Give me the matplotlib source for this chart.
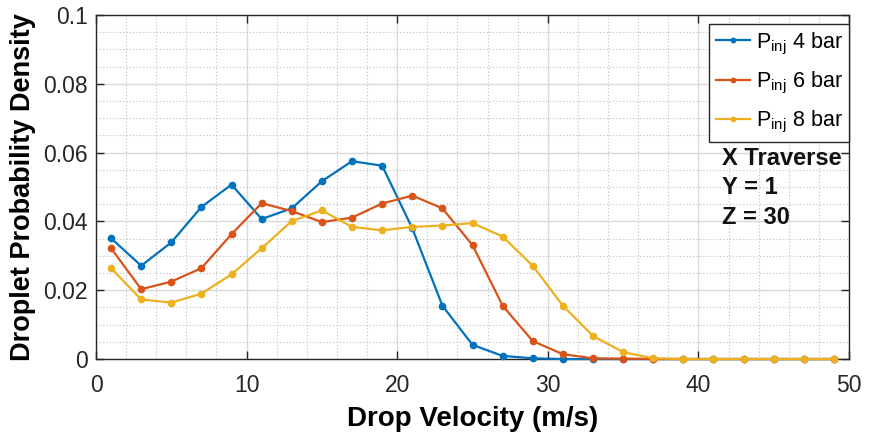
import matplotlib.pyplot as plt
import numpy as np

plt.rcParams['font.family'] = ['Liberation Sans', 'DejaVu Sans']

# drop velocity bins (m/s)
velocity = np.arange(1, 50, 2)

# droplet probability density for each injection pressure
p4 = [0.0351, 0.0271, 0.0339, 0.0442, 0.0507, 0.0407, 0.0438, 0.0517, 0.0575, 0.0562,
      0.0380, 0.0155, 0.0041, 0.0009, 0.0002, 0.0, 0.0, 0.0, 0.0, 0.0,
      0.0, 0.0, 0.0, 0.0, 0.0]
p6 = [0.0322, 0.0203, 0.0225, 0.0264, 0.0363, 0.0453, 0.0430, 0.0398, 0.0411, 0.0452,
      0.0475, 0.0438, 0.0331, 0.0155, 0.0052, 0.0014, 0.0002, 0.0001, 0.0, 0.0,
      0.0, 0.0, 0.0, 0.0, 0.0]
p8 = [0.0264, 0.0173, 0.0164, 0.0190, 0.0246, 0.0322, 0.0401, 0.0432, 0.0384, 0.0374,
      0.0384, 0.0388, 0.0395, 0.0356, 0.0271, 0.0155, 0.0067, 0.0020, 0.0002, 0.0,
      0.0, 0.0, 0.0, 0.0, 0.0]

labels = ['P$_{\\mathregular{inj}}$ 4 bar', 'P$_{\\mathregular{inj}}$ 6 bar', 'P$_{\\mathregular{inj}}$ 8 bar']
colors = ['#0072BD', '#D95319', '#EDB120']
notes = ['X Traverse', 'Y = 1', 'Z = 30']

fig = plt.figure(figsize=(8.76, 4.34), dpi=100)
ax = fig.add_axes([0.1096, 0.1728, 0.8596, 0.7926])

for y, lab, c in zip([p4, p6, p8], labels, colors):
    ax.plot(velocity, y, '-o', color=c, lw=1.6, ms=4.5, label=lab, clip_on=False, zorder=3)

ax.set_xlim(0, 50)
ax.set_ylim(0, 0.1)
ax.set_xticks(np.arange(0, 51, 10))
ax.set_yticks(np.arange(0, 0.101, 0.02))
ax.set_yticklabels(['0', '0.02', '0.04', '0.06', '0.08', '0.1'])
ax.set_xticks(np.arange(0, 51, 2), minor=True)
ax.set_yticks(np.arange(0, 0.101, 0.005), minor=True)

ax.grid(which='major', color='#d9d9d9', lw=1.0, ls='-')
ax.grid(which='minor', color='#bdbdbd', lw=0.8, ls=(0, (1, 2)))
ax.set_axisbelow(True)

ax.tick_params(which='major', direction='in', length=6, width=1, top=True, right=True,
               labelsize=16.5, colors='#262626')
ax.tick_params(axis='x', which='major', pad=11)
ax.tick_params(axis='y', which='major', pad=6)
ax.tick_params(which='minor', length=0)
for s in ax.spines.values():
    s.set_color('#262626')
    s.set_linewidth(1.0)

ax.set_xlabel('Drop Velocity (m/s)', fontsize=20, fontweight='bold', labelpad=6)
ax.set_ylabel('Droplet Probability Density', fontsize=19.5, fontweight='bold', labelpad=5)

leg = ax.legend(loc='upper right', bbox_to_anchor=(1.0, 0.974), fontsize=15.5, frameon=True,
                fancybox=False, handlelength=1.6, handletextpad=0.25, borderpad=0.3,
                labelspacing=0.62, borderaxespad=0.0, markerscale=0.7)
leg.get_frame().set_edgecolor('#262626')
leg.get_frame().set_linewidth(1.0)
leg.get_frame().set_alpha(1)

for note, ny in zip(notes, [0.0584, 0.0500, 0.0410]):
    ax.text(41.55, ny, note, fontsize=17, fontweight='bold', va='center', ha='left',
            color='#111111')

fig.savefig('out.png', dpi=100)
